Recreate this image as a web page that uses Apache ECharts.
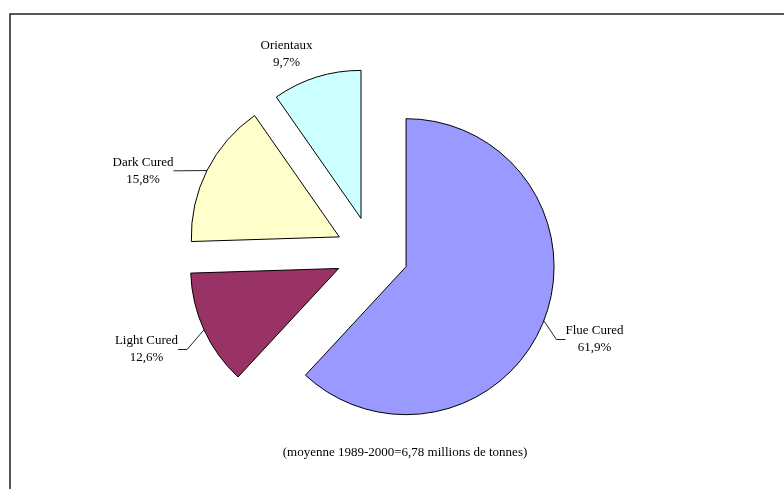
<!DOCTYPE html>
<html><head><meta charset="utf-8">
<script src="https://cdn.jsdelivr.net/npm/echarts@6.0.0/dist/echarts.min.js"></script>
<style>html,body{margin:0;padding:0;background:#fff}#c{width:784px;height:489px}</style>
</head><body><div id="c"></div>
<script>
// ---- data ----
const categories = ['Flue Cured', 'Light Cured', 'Dark Cured', 'Orientaux'];
const shares = [61.9, 12.6, 15.8, 9.7];
const colors = ['#9999FF', '#993366', '#FFFFCC', '#CCFFFF'];
const note = '(moyenne 1989-2000=6,78 millions de tonnes)';

// ---- layout ----
const cx = 372, cy = 253.3, R = 148, explode = 36.6;
const labelCenters = [[594.5, 339.5], [146.5, 349.5], [143, 170.8], [286.5, 54.2]];
const leaderLen2 = [9, 9, 5, 0];

const chart = echarts.init(document.getElementById('c'), null, {renderer: 'canvas'});
const total = shares.reduce((a, b) => a + b, 0);
let acc = 0;
const series = categories.map((name, k) => {
  const mid = (acc + shares[k] / 2) / total * 2 * Math.PI;
  acc += shares[k];
  const center = [cx + explode * Math.sin(mid), cy - explode * Math.cos(mid)];
  return {
    type: 'pie', center: center, radius: [0, R], startAngle: 90, clockwise: true,
    avoidLabelOverlap: false, silent: true, animation: false,
    emphasis: {disabled: true},
    label: {
      position: 'outside',
      formatter: p => p.name + '\n' + p.value.toFixed(1).replace('.', ',') + '%',
      fontFamily: 'Liberation Serif', fontSize: 13, lineHeight: 17, color: '#000'
    },
    labelLine: {lineStyle: {color: '#222', width: 1}},
    labelLayout: p => p.dataIndex === k
      ? {x: labelCenters[k][0], y: labelCenters[k][1], align: 'center', verticalAlign: 'middle'}
      : {},
    data: categories.map((n, i) => ({
      name: n, value: shares[i],
      itemStyle: i === k
        ? {color: colors[i], borderColor: '#000', borderWidth: 1}
        : {color: 'rgba(0,0,0,0)', borderWidth: 0},
      label: {show: i === k},
      labelLine: {show: i === k && k !== 3, length: 10, length2: leaderLen2[i]}
    }))
  };
});

chart.setOption({
  backgroundColor: '#fff',
  animation: false,
  series: series,
  graphic: [
    {type: 'rect', silent: true, shape: {x: 10, y: 14, width: 800, height: 500},
     style: {fill: 'none', stroke: '#222', lineWidth: 1.5}},
    {type: 'text', silent: true, x: 405, y: 453,
     style: {text: note, fontFamily: 'Liberation Serif', fontSize: 13, fill: '#000', align: 'center', verticalAlign: 'middle'}}
  ]
});
</script></body></html>
